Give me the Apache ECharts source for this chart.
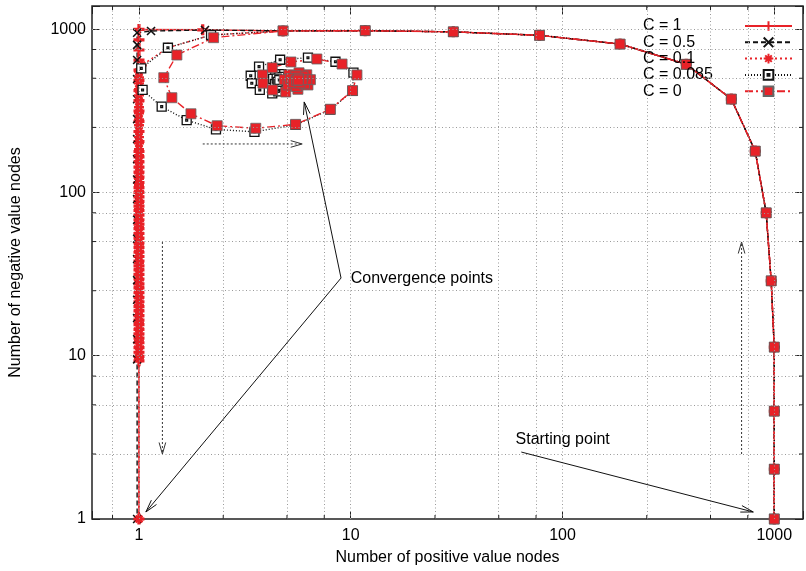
<!DOCTYPE html>
<html><head><meta charset="utf-8">
<script src="https://cdn.jsdelivr.net/npm/echarts@6/dist/echarts.min.js"></script>
<style>html,body{margin:0;padding:0;background:#fff}#c{width:806px;height:571px}</style>
</head><body><div id="c"></div>
<script>
// ---- tick labels / grid values ----
const xTickValues = [1, 10, 100, 1000];
const xTickLabels = ['1', '10', '100', '1000'];
const yTickValues = [1, 10, 100, 1000];
const yTickLabels = ['1', '10', '100', '1000'];
const gridX = [0.75, 1, 2.5, 5, 7.5, 10, 25, 50, 75, 100, 250, 500, 750, 1000];
const gridY = [2.5, 5, 7.5, 10, 25, 50, 75, 100, 250, 500, 750, 1000];
const minorX = [0.75, 2.5, 5, 7.5, 25, 50, 75, 250, 500, 750];
const minorY = [2.5, 5, 7.5, 25, 50, 75, 250, 500, 750];

// ---- shared start: from the starting point (1000,1) up and left ----
const descentX = [1000, 1000, 1000, 1000, 967, 916, 813, 627, 384, 187, 77.9, 30.5, 11.7, 4.79];
const descentY = [1, 2.02, 4.58, 11.3, 28.7, 74.9, 179, 373, 609, 810, 916, 962, 978, 975];

// ---- C = 1 ----
const c1TopX = [2.0, 1.0];
const c1TopY = [990, 995];
const c1ColumnX = 1;
const c1ColumnY = [860, 745, 645, 560, 485, 420, 365, 315, 272, 236, 205, 178, 165, 154, 143, 133, 124, 115, 107, 100, 94, 88, 82.5, 77.5, 72.5, 68, 64, 60, 56, 52.5, 49, 46, 43, 40.5, 38, 35.5, 33.5, 31.5, 29.5, 27.5, 26, 24.3, 22.8, 21.4, 20, 18.8, 17.6, 16.5, 15.5, 14.5, 13.6, 12.8, 12, 11.2, 10.5, 9.9, 9.3, 1];

// ---- C = 0.5 ----
const c05TopX = [2.05, 1.14];
const c05TopY = [987, 973];
const c05ColumnX = 0.98;
const c05ColumnY = [950, 800, 647, 494, 372, 281, 212, 160, 120, 91, 68, 52, 39, 29, 22, 17, 12.6, 9.5, 1];

// ---- C = 0.1 ----
const c01TopX = [2.19, 1.37, 1.03];
const c01TopY = [920, 769, 600];
const c01ColumnX = 1;
const c01ColumnY = [550, 505, 465, 428, 393, 361, 332, 305, 280, 258, 237, 218, 200, 184, 169, 155, 143, 131, 121, 111, 102, 94, 86, 79, 73, 67, 61.5, 56.5, 52, 48, 44, 40.5, 37, 34, 31.5, 29, 26.5, 24.5, 22.5, 20.5, 19, 17.5, 16, 14.7, 13.5, 12.4, 11.4, 10.5, 9.6, 1];

// ---- C = 0.085 (spiral) ----
const c0085X = [2.19, 1.37, 1.025, 1.04, 1.28, 1.68, 2.31, 3.51, 5.49, 8.0, 10.2, 10.3, 8.47, 6.28, 4.64, 3.69, 3.37, 3.41, 3.72, 4.26, 4.55, 4.85, 4.9, 4.7, 4.4, 4.3, 4.38, 4.62, 4.75, 4.6, 4.47, 4.52, 4.6];
const c0085Y = [920, 769, 575, 424, 335, 277, 243, 235, 259, 321, 418, 541, 631, 668, 649, 589, 518, 466, 424, 404, 415, 445, 490, 530, 528, 495, 460, 455, 480, 510, 498, 475, 488];

// ---- C = 0 (spiral) ----
const c0X = [2.25, 1.51, 1.31, 1.43, 1.76, 2.34, 3.56, 5.49, 8.01, 10.2, 10.7, 9.1, 6.92, 5.22, 4.26, 3.83, 3.85, 4.28, 4.93, 5.63, 6.28, 6.45, 6.2, 5.7, 5.1, 4.85, 5.05, 5.55, 6.05, 6.2, 5.95, 5.5, 5.2, 5.35, 5.75, 5.9, 5.65, 5.55, 5.65];
const c0Y = [886, 694, 504, 380, 303, 256, 247, 261, 323, 420, 524, 611, 656, 629, 580, 524, 466, 424, 412, 428, 455, 490, 525, 540, 525, 490, 455, 445, 462, 492, 515, 518, 497, 470, 468, 490, 500, 485, 488];

// ---- annotations (data coordinates) ----
const convLabelAt = [10.0, 29.5];
const convJoint = [9.0, 29.9];
const convTips = [[6.03, 358], [1.078, 1.104]];
const startLabelAt = [60, 3.05];
const startTail = [63.9, 2.57];
const startTip = [796, 1.104];
const flowTop = [[2.0, 198], [5.9, 198]];
const flowLeft = [[1.29, 49.7], [1.29, 2.5]];
const flowRight = [[701, 2.5], [701, 49.7]];

const names = ['C = 1', 'C = 0.5', 'C = 0.1', 'C = 0.085', 'C = 0'];

function zip(xs, ys) { return xs.map((x, i) => [x, ys[i]]); }
function col(x, ys) { return ys.map(y => [x, y]); }

const dataC1 = zip(descentX, descentY).concat(zip(c1TopX, c1TopY), col(c1ColumnX, c1ColumnY));
const dataC05 = zip(descentX, descentY).concat(zip(c05TopX, c05TopY), col(c05ColumnX, c05ColumnY));
const dataC01 = zip(descentX, descentY).concat(zip(c01TopX, c01TopY), col(c01ColumnX, c01ColumnY));
const dataC0085 = zip(descentX, descentY).concat(zip(c0085X, c0085Y));
const dataC0 = zip(descentX, descentY).concat(zip(c0X, c0Y));

const RED = '#e82228';
const FONT = 'Liberation Sans';

function fmt(values, labels) {
  return v => { for (let i = 0; i < values.length; i++) if (Math.abs(v - values[i]) / values[i] < 1e-6) return labels[i]; return ''; };
}

const PLUS = 'path://M5,0L5,10M0,5L10,5';
const CROSS = 'path://M0,0L10,10M10,0L0,10';
const STAR = 'path://M5,0L5,10M0,5L10,5M1.6,1.6L8.4,8.4M8.4,1.6L1.6,8.4';
const BOXDOT = 'path://M0,0L10,0L10,10L0,10ZM4,4L6,4L6,6L4,6Z';

const XMIN = 0.6, XMAX = 1367, YMIN = 1, YMAX = 1385;

function baseSeries(name, data, color, lineType, symbol, size, itemStyle) {
  return {
    name, type: 'line', data, clip: false, showSymbol: true, showAllSymbol: true,
    symbol, symbolSize: size, animation: false,
    lineStyle: { color, width: 1.4, type: lineType },
    itemStyle, emphasis: { disabled: true }
  };
}

const option = {
  animation: false,
  backgroundColor: '#fff',
  textStyle: { fontFamily: FONT },
  grid: { left: 90, right: 2, top: 6, bottom: 52, show: true, borderColor: '#222', borderWidth: 1.5, backgroundColor: 'transparent' },
  legend: {
    data: names, orient: 'vertical', left: 638, top: 13, align: 'right',
    itemWidth: 47, itemHeight: 12, itemGap: 0.3, selectedMode: false,
    formatter: n => '{a|' + n + '}',
    textStyle: { fontFamily: FONT, fontSize: 16, color: '#000',
      rich: { a: { width: 97, align: 'left', fontFamily: FONT, fontSize: 16, lineHeight: 16, color: '#000' } } }
  },
  xAxis: [{
    type: 'log', logBase: 10, min: XMIN, max: XMAX, position: 'bottom',
    name: 'Number of positive value nodes', nameLocation: 'middle', nameGap: 31,
    nameTextStyle: { fontFamily: FONT, fontSize: 16, color: '#000' },
    axisLine: { show: false }, splitLine: { show: false },
    axisTick: { show: true, inside: true, length: 8, lineStyle: { color: '#222', width: 1 } },
    axisLabel: { margin: 9, fontFamily: FONT, fontSize: 16, color: '#000', formatter: fmt(xTickValues, xTickLabels) }
  }, {
    type: 'log', logBase: 10, min: XMIN, max: XMAX, position: 'top',
    axisLine: { show: false }, splitLine: { show: false }, axisLabel: { show: false },
    axisTick: { show: true, inside: true, length: 8, lineStyle: { color: '#222', width: 1 } }
  }],
  yAxis: [{
    type: 'log', logBase: 10, min: YMIN, max: YMAX, position: 'left',
    name: 'Number of negative value nodes', nameLocation: 'middle', nameGap: 68, nameRotate: 90,
    nameTextStyle: { fontFamily: FONT, fontSize: 16, color: '#000' },
    axisLine: { show: false }, splitLine: { show: false },
    axisTick: { show: true, inside: true, length: 8, lineStyle: { color: '#222', width: 1 } },
    axisLabel: { margin: 6, fontFamily: FONT, fontSize: 16, color: '#000', formatter: fmt(yTickValues, yTickLabels) }
  }, {
    type: 'log', logBase: 10, min: YMIN, max: YMAX, position: 'right',
    axisLine: { show: false }, splitLine: { show: false }, axisLabel: { show: false },
    axisTick: { show: true, inside: true, length: 8, lineStyle: { color: '#222', width: 1 } }
  }],
  series: [
    {
      name: 'grid', type: 'line', data: [], z: 0, silent: true, animation: false,
      markLine: {
        silent: true, symbol: ['none', 'none'], label: { show: false }, animation: false,
        emphasis: { disabled: true },
        lineStyle: { color: '#9a9a9a', width: 1, type: [1, 2.5] },
        data: gridX.map(v => ({ xAxis: v })).concat(gridY.map(v => ({ yAxis: v })))
      }
    },
    baseSeries('C = 1', dataC1, RED, 'solid', PLUS, 11, { color: RED, borderColor: RED, borderWidth: 3.2 }),
    baseSeries('C = 0.5', dataC05, '#111', [5, 3], CROSS, 8, { color: '#111', borderColor: '#111', borderWidth: 1.6 }),
    baseSeries('C = 0.1', dataC01, RED, [2, 3], STAR, 10, { color: RED, borderColor: RED, borderWidth: 2.4 }),
    baseSeries('C = 0.085', dataC0085, '#111', [1, 2], BOXDOT, 9, { color: '#fff', borderColor: '#111', borderWidth: 1.3 }),
    baseSeries('C = 0', dataC0, RED, [8, 3, 2, 3], 'rect', 10, { color: RED, borderColor: '#666', borderWidth: 0.8 })
  ]
};

const chart = echarts.init(document.getElementById('c'), null, { renderer: 'canvas' });
chart.setOption(option);

function P(p) { return chart.convertToPixel({ xAxisIndex: 0, yAxisIndex: 0 }, p); }
function headPts(tip, from, len, ang) {
  const dx = from[0] - tip[0], dy = from[1] - tip[1], L = Math.hypot(dx, dy);
  const ux = dx / L, uy = dy / L, c = Math.cos(ang), s = Math.sin(ang);
  return [[tip[0] + len * (ux * c - uy * s), tip[1] + len * (ux * s + uy * c)], tip,
          [tip[0] + len * (ux * c + uy * s), tip[1] + len * (-ux * s + uy * c)]];
}
const g = [];
function line(a, b, style, z) { g.push({ type: 'line', z: z || 10, silent: true, shape: { x1: a[0], y1: a[1], x2: b[0], y2: b[1] }, style }); }
function poly(pts, style, z) { g.push({ type: 'polyline', z: z || 10, silent: true, shape: { points: pts }, style: Object.assign({ fill: null }, style) }); }

// minor ticks on all four sides
const x0 = P([XMIN, YMIN]), x1 = P([XMAX, YMAX]);
const tickStyle = { stroke: '#222', lineWidth: 1 };
minorX.forEach(v => { const p = P([v, YMIN]); line([p[0], x0[1]], [p[0], x0[1] - 4], tickStyle, 5); line([p[0], x1[1]], [p[0], x1[1] + 4], tickStyle, 5); });
minorY.forEach(v => { const p = P([XMIN, v]); line([x0[0], p[1]], [x0[0] + 4, p[1]], tickStyle, 5); line([x1[0], p[1]], [x1[0] - 4, p[1]], tickStyle, 5); });

// convergence annotation
const solid = { stroke: '#111', lineWidth: 1 };
const J = P(convJoint);
convTips.forEach(t => { const T = P(t); line(J, T, solid); poly(headPts(T, J, 13, 0.26), solid); });
const CL = P(convLabelAt);
g.push({ type: 'text', z: 10, silent: true, x: CL[0], y: CL[1], style: { text: 'Convergence points', font: '16px "Liberation Sans"', fill: '#000', textVerticalAlign: 'middle', textAlign: 'left' } });
// starting point annotation
const ST = P(startTail), SP = P(startTip);
line(ST, SP, solid); poly(headPts(SP, ST, 13, 0.26), solid);
const SL = P(startLabelAt);
g.push({ type: 'text', z: 10, silent: true, x: SL[0], y: SL[1], style: { text: 'Starting point', font: '16px "Liberation Sans"', fill: '#000', textVerticalAlign: 'middle', textAlign: 'left' } });
// dotted flow arrows
const dotted = { stroke: '#333', lineWidth: 1, lineDash: [2, 2] };
[flowTop, flowLeft, flowRight].forEach(a => { const A = P(a[0]), B = P(a[1]); line(A, B, dotted); poly(headPts(B, A, 12, 0.28), { stroke: '#333', lineWidth: 1 }); });

chart.setOption({ graphic: g });
</script></body></html>
